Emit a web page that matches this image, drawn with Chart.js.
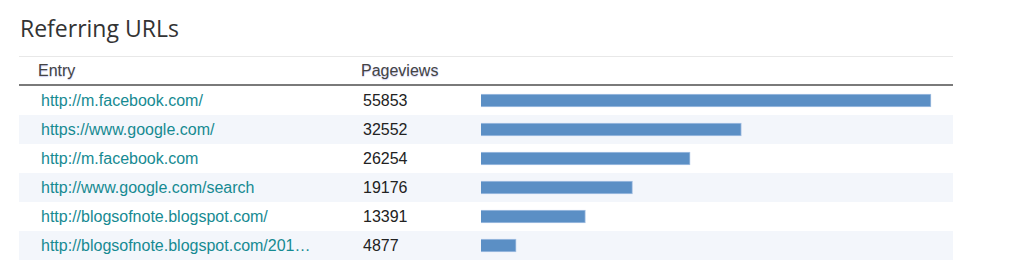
<!DOCTYPE html>
<html>
<head>
<meta charset="utf-8">
<script src="https://cdn.jsdelivr.net/npm/chart.js@4"></script>
<style>
  html, body { margin: 0; padding: 0; background: #fff; }
  body { width: 1024px; height: 266px; position: relative; overflow: hidden; }
  #title { position: absolute; left: 20px; top: 12px; font: 23px "Open Sans", sans-serif; color: #333; }
  #table { position: absolute; left: 19px; top: 56px; width: 934px; border-top: 1px solid #e8e8e8;
           font: 16px "Liberation Sans", Arial, sans-serif; }
  .head { height: 27px; border-bottom: 2px solid #7a7a7a; position: relative; color: #444;
          text-shadow: 0 1px 1px rgba(170, 170, 230, 0.6); }
  .row { height: 29px; position: relative; }
  .row.alt { background: #f3f6fb; }
  .cell { position: absolute; top: 0; line-height: 29px; white-space: nowrap; }
  .head .cell { line-height: 28px; }
  .url { left: 22px; color: #168a92; }
  .num { left: 344px; color: #222; }
  #bars { position: absolute; left: 481px; top: 86px; width: 472px; height: 174px; }
</style>
</head>
<body>
<div id="title">Referring URLs</div>
<div id="table">
  <div class="head">
    <div class="cell" style="left:19px">Entry</div>
    <div class="cell" style="left:342px">Pageviews</div>
  </div>
  <div id="rows"></div>
</div>
<div id="bars"><canvas id="chart"></canvas></div>
<script>
// Referring URLs — table with inline Chart.js bars

const entries = [
  'http://m.facebook.com/',
  'https://www.google.com/',
  'http://m.facebook.com',
  'http://www.google.com/search',
  'http://blogsofnote.blogspot.com/',
  'http://blogsofnote.blogspot.com/201…'
];
const pageviews = [55853, 32552, 26254, 19176, 13391, 4877];

const rows = document.getElementById('rows');
entries.forEach(function(e, i) {
  const r = document.createElement('div');
  r.className = 'row' + (i % 2 ? ' alt' : '');
  r.innerHTML = '<div class="cell url"></div><div class="cell num"></div>';
  r.children[0].textContent = e;
  r.children[1].textContent = pageviews[i];
  rows.appendChild(r);
});

const ctx = document.getElementById('chart').getContext('2d');

new Chart(ctx, {
  type: 'bar',
  data: {
    labels: entries,
    datasets: [{
      data: pageviews,
      backgroundColor: '#5b8fc5',
      borderColor: '#a6c2e3',
      borderWidth: 1,
      borderSkipped: false,
      barThickness: 13
    }]
  },
  options: {
    indexAxis: 'y',
    responsive: true,
    maintainAspectRatio: false,
    animation: false,
    layout: { padding: 0 },
    plugins: {
      legend: { display: false },
      tooltip: { enabled: false }
    },
    scales: {
      x: { display: false, min: 560, max: 58555, grid: { display: false } },
      y: { display: false, grid: { display: false } }
    }
  }
});
</script>
</body>
</html>
